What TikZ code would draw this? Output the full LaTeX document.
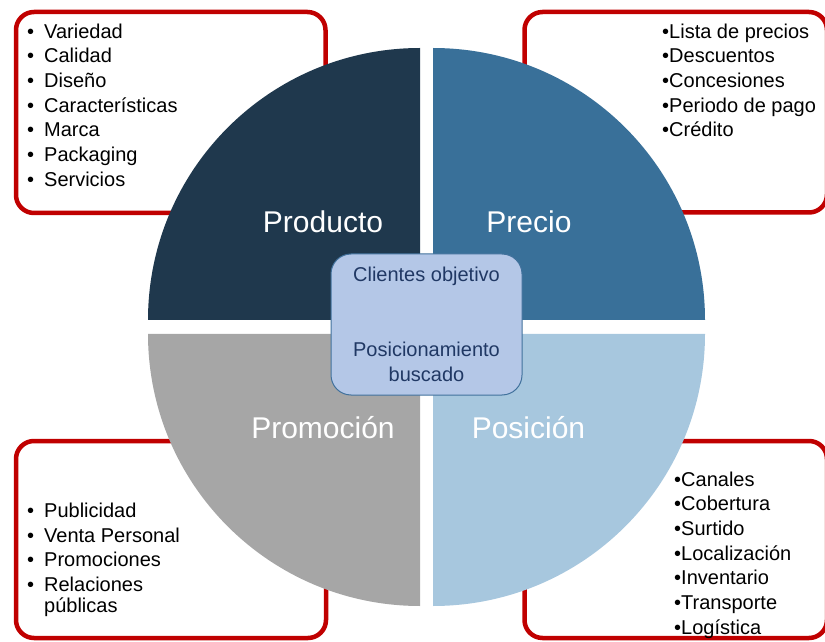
\documentclass[tikz,border=0pt]{standalone}
\usepackage{fontspec}
\setmainfont{Liberation Sans}
\usetikzlibrary{positioning}

\definecolor{rojo}{RGB}{192,0,0}
\definecolor{producto}{RGB}{31,56,77}
\definecolor{precio}{RGB}{57,112,153}
\definecolor{promocion}{RGB}{166,166,166}
\definecolor{posicion}{RGB}{167,199,222}
\definecolor{centrofondo}{RGB}{180,199,231}
\definecolor{centroborde}{RGB}{65,113,156}
\definecolor{centrotexto}{RGB}{32,56,100}

\newcommand{\itm}[1]{\makebox[17pt][l]{\textbullet}#1}

\begin{document}
\begin{tikzpicture}[x=1pt,y=1pt,font=\fontsize{20}{24.7}\selectfont]
        \tikzstyle{marco}=[draw=rojo,line width=4.5pt,rounded corners=18pt]
        \tikzstyle{lista}=[anchor=north west,align=left,inner sep=0pt]
        \tikzstyle{cuarto}=[text=white,font=\fontsize{30}{36}\selectfont]
        \tikzstyle{centro}=[rectangle,rounded corners=20pt,draw=centroborde,line width=1pt,fill=centrofondo,text=centrotexto,align=center,minimum width=191pt,minimum height=141pt]

        \clip (0,0) rectangle (825,641);

        % marcos rojos
        \draw[marco] (16,428) rectangle (325.5,629);
        \draw[marco] (524.5,428.5) rectangle (827,629);
        \draw[marco] (16,3) rectangle (326,200);
        \draw[marco] (524.5,3) rectangle (827,200);

        % cuartos del circulo
        \fill[producto] (420,321) -- (148,321) arc[start angle=180,end angle=90,radius=272pt] -- cycle;
        \fill[precio] (433,321) -- (433,593) arc[start angle=90,end angle=0,radius=272pt] -- cycle;
        \fill[promocion] (420,307) -- (148,307) arc[start angle=180,end angle=270,radius=272pt] -- cycle;
        \fill[posicion] (433,307) -- (705,307) arc[start angle=0,end angle=-90,radius=272pt] -- cycle;

        \node [cuarto] (prod) at (323,419) {Producto};
        \node [cuarto] (prec) at (529,419) {Precio};
        \node [cuarto] (prom) at (323,213) {Promoción};
        \node [cuarto] (posi) at (528.5,213) {Posición};

        \node [centro] (centro) at (426.5,316.5) {Clientes objetivo\\[50pt]Posicionamiento\\buscado};

        % listas
        \node [lista] (lprod) at (27,617.5) {\itm{Variedad}\\\itm{Calidad}\\\itm{Diseño}\\\itm{Características}\\\itm{Marca}\\\itm{Packaging}\\\itm{Servicios}};
        \node [lista] (lprec) at (662,617.5) {•Lista de precios\\•Descuentos\\•Concesiones\\•Periodo de pago\\•Crédito};
        \node [lista] (lprom) at (27,138.3) {\itm{Publicidad}\\\itm{Venta Personal}\\\itm{Promociones}\\\itm{Relaciones}\\[-3.7pt]\hspace*{17pt}públicas};
        \node [lista] (lposi) at (674,169.5) {•Canales\\•Cobertura\\•Surtido\\•Localización\\•Inventario\\•Transporte\\•Logística};
    \end{tikzpicture}
\end{document}
